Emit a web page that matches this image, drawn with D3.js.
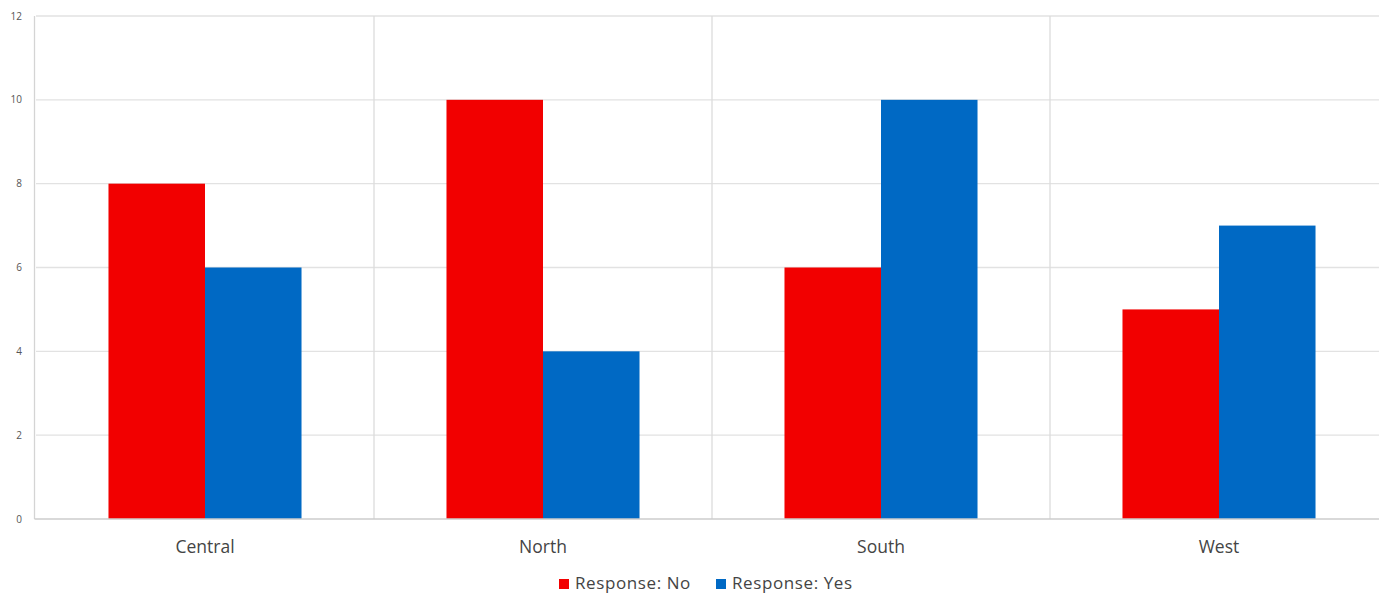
<!DOCTYPE html>
<html>
<head>
<meta charset="utf-8">
<script src="https://cdn.jsdelivr.net/npm/d3@7"></script>
<style>
  html, body { margin: 0; padding: 0; background: #fff; overflow: hidden; }
  svg { display: block; }
  text { font-family: "Open Sans", "Noto Sans", sans-serif; }
</style>
</head>
<body>
<svg id="chart" width="1379" height="594"></svg>
<script>
// Survey responses per region
const regions = ["Central", "North", "South", "West"];
const seriesNames = ["Response: No", "Response: Yes"];
const responseNo = [8, 10, 6, 5];
const responseYes = [6, 4, 10, 7];
const yTicks = [0, 2, 4, 6, 8, 10, 12];
const colors = ["#f20000", "#0069c4"];

const svg = d3.select("#chart");
const plot = { left: 36, right: 1388, top: 16, bottom: 519 };

const x = d3.scaleBand()
  .domain(regions)
  .range([plot.left, plot.right])
  .paddingInner(0)
  .paddingOuter(0);

const xSeries = d3.scaleBand()
  .domain(seriesNames)
  .range([0, x.bandwidth()])
  .paddingInner(0)
  .paddingOuter(0.751);

const y = d3.scaleLinear().domain([0, 12]).range([plot.bottom, plot.top]);

// Horizontal gridlines
svg.append("g")
  .selectAll("line")
  .data(yTicks.filter(t => t > 0))
  .join("line")
  .attr("x1", plot.left).attr("x2", plot.right)
  .attr("y1", d => y(d)).attr("y2", d => y(d))
  .attr("stroke", "#e2e2e2").attr("stroke-width", 1.3);

// Vertical category separators
svg.append("g")
  .selectAll("line")
  .data(regions.slice(1))
  .join("line")
  .attr("x1", d => x(d)).attr("x2", d => x(d))
  .attr("y1", plot.top).attr("y2", plot.bottom)
  .attr("stroke", "#dcdcdc").attr("stroke-width", 1.3);

// Left axis line
svg.append("line")
  .attr("x1", plot.left - 1.5).attr("x2", plot.left - 1.5)
  .attr("y1", plot.top).attr("y2", plot.bottom)
  .attr("stroke", "#d4d4d4").attr("stroke-width", 1.3);

// Bars
const rows = regions.map((r, i) => ({ region: r, values: [responseNo[i], responseYes[i]] }));
const groups = svg.append("g")
  .selectAll("g")
  .data(rows)
  .join("g")
  .attr("transform", d => `translate(${x(d.region)},0)`);

groups.selectAll("rect")
  .data(d => d.values.map((v, j) => ({ name: seriesNames[j], value: v, color: colors[j] })))
  .join("rect")
  .attr("x", d => xSeries(d.name))
  .attr("width", xSeries.bandwidth())
  .attr("y", d => y(d.value))
  .attr("height", d => y(0) - y(d.value))
  .attr("fill", d => d.color);

// Baseline
svg.append("line")
  .attr("x1", plot.left - 1.5).attr("x2", plot.right)
  .attr("y1", plot.bottom).attr("y2", plot.bottom)
  .attr("stroke", "#cccccc").attr("stroke-width", 1.5);

// Y tick labels
svg.append("g")
  .selectAll("text")
  .data(yTicks)
  .join("text")
  .attr("x", 22)
  .attr("y", d => y(d))
  .attr("dy", "0.35em")
  .attr("text-anchor", "end")
  .attr("font-size", 10)
  .attr("fill", "#555")
  .text(d => d);

// Category labels
svg.append("g")
  .selectAll("text")
  .data(regions)
  .join("text")
  .attr("x", d => x(d) + x.bandwidth() / 2)
  .attr("y", 553)
  .attr("text-anchor", "middle")
  .attr("font-size", 17.5)
  .attr("fill", "#444")
  .text(d => d);

// Legend
const legendItems = [
  { name: seriesNames[0], color: colors[0], x: 559 },
  { name: seriesNames[1], color: colors[1], x: 716 }
];
const legend = svg.append("g");
legend.selectAll("rect")
  .data(legendItems)
  .join("rect")
  .attr("x", d => d.x).attr("y", 579)
  .attr("width", 10).attr("height", 10)
  .attr("fill", d => d.color);
legend.selectAll("text")
  .data(legendItems)
  .join("text")
  .attr("x", d => d.x + 16)
  .attr("y", 589)
  .attr("font-size", 17)
  .attr("letter-spacing", 0.6)
  .attr("fill", "#444")
  .text(d => d.name);
</script>
</body>
</html>
